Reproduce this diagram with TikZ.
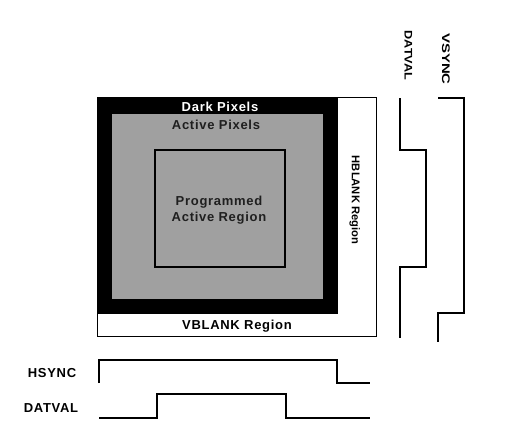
\documentclass[tikz,border=0pt]{standalone}
\usepackage{fontspec}
\setmainfont{Liberation Sans}
\newfontfamily\lblfont[LetterSpace=5.5]{Liberation Sans}
\definecolor{graypix}{RGB}{160,160,160}
\begin{document}
\begin{tikzpicture}[x=1pt,y=-1pt,
  lbl/.style={font=\lblfont\bfseries\fontsize{13}{16}\selectfont, inner sep=0pt, text depth=0pt},
  plainlbl/.style={font=\bfseries\fontsize{11.2}{13}\selectfont, inner sep=0pt, text depth=0pt},
  sidelbl/.style={font=\bfseries\fontsize{11}{12}\selectfont, inner sep=0pt, text depth=0pt, rotate=-90},
  wave/.style={line width=1.2pt, line join=miter}]
\useasboundingbox (0,0) rectangle (532,442);
\fill[white] (0,0) rectangle (532,442);
% sensor regions
\fill[black] (97,97) rectangle (337,313);
\fill[graypix] (112,114) rectangle (323,299);
\draw[line width=1.7pt] (155,150) rectangle (285,267);
\draw[line width=1pt] (97,97) rectangle (376,336);
\draw[line width=1pt] (337,97) -- (337,313) -- (97,313);
% labels
\node[lbl, text=white] (dark) at (220,107) {Dark Pixels};
\node[lbl, text=black!88] (active) at (216,125) {Active Pixels};
\node[lbl, text=black!88, align=center] (prog) at (219,209) {Programmed\\Active Region};
\node[lbl] (vblank) at (237,325) {VBLANK Region};
\node[plainlbl, rotate=-90] (hblank) at (356,200) {HBLANK Region};
\node[sidelbl] (vdat) at (408.5,55.5) {\scalebox{1.15}[1]{DATVAL}};
\node[sidelbl] (vsync) at (446,59) {\scalebox{1.36}[1]{VSYNC}};
\node[lbl] (hsync) at (52,373) {HSYNC};
\node[lbl] (hdat) at (51,408) {DATVAL};
% waveforms
\draw[wave] (400,98) -- (400,150) -- (426,150) -- (426,267) -- (400,267) -- (400,338);
\draw[wave] (438,98) -- (464,98) -- (464,313) -- (438,313) -- (438,342);
\draw[wave] (99,383) -- (99,360) -- (337,360) -- (337,383) -- (370,383);
\draw[wave] (99,418) -- (157,418) -- (157,394) -- (286,394) -- (286,418) -- (370,418);
\end{tikzpicture}
\end{document}
